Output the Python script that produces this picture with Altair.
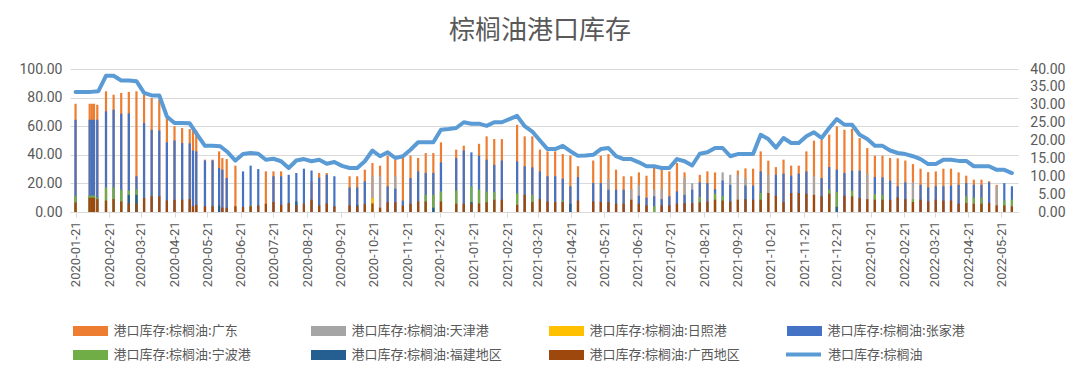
import altair as alt
import pandas as pd

FONT = "Noto Sans CJK SC"
NUMFONT = "Roboto"
TXT = "#595959"
GRID = "#D9D9D9"

TITLE = "棕榈油港口库存"
series_names = ["港口库存:棕榈油:广东", "港口库存:棕榈油:天津港", "港口库存:棕榈油:日照港",
                "港口库存:棕榈油:张家港", "港口库存:棕榈油:宁波港", "港口库存:棕榈油:福建地区",
                "港口库存:棕榈油:广西地区"]
line_name = "港口库存:棕榈油"
colors = ["#ED7D31", "#A5A5A5", "#FFC000", "#4472C4", "#70AD47", "#255E91", "#9E480E"]
line_color = "#5B9BD5"

N = None

bar_dates = [
    "2020-01-21", "2020-02-03", "2020-02-05", "2020-02-07", "2020-02-10", "2020-02-18", "2020-02-25", "2020-03-03", "2020-03-10", "2020-03-17",
    "2020-03-24", "2020-03-31", "2020-04-07", "2020-04-14", "2020-04-21", "2020-04-28", "2020-05-05", "2020-05-08", "2020-05-11", "2020-05-19",
    "2020-05-26", "2020-06-01", "2020-06-04", "2020-06-08", "2020-06-16", "2020-06-23", "2020-06-30", "2020-07-07", "2020-07-14", "2020-07-21",
    "2020-07-28", "2020-08-04", "2020-08-11", "2020-08-18", "2020-08-25", "2020-09-01", "2020-09-08", "2020-09-15", "2020-09-29", "2020-10-06",
    "2020-10-13", "2020-10-20", "2020-10-27", "2020-11-03", "2020-11-10", "2020-11-17", "2020-11-24", "2020-12-01", "2020-12-08", "2020-12-15",
    "2020-12-22", "2021-01-05", "2021-01-12", "2021-01-19", "2021-01-26", "2021-02-02", "2021-02-09", "2021-02-16", "2021-03-02", "2021-03-09",
    "2021-03-16", "2021-03-23", "2021-03-30", "2021-04-06", "2021-04-13", "2021-04-20", "2021-04-27", "2021-05-11", "2021-05-18", "2021-05-25",
    "2021-06-01", "2021-06-08", "2021-06-15", "2021-06-22", "2021-06-29", "2021-07-06", "2021-07-13", "2021-07-20", "2021-07-27", "2021-08-03",
    "2021-08-10", "2021-08-17", "2021-08-24", "2021-08-31", "2021-09-07", "2021-09-14", "2021-09-21", "2021-09-28", "2021-10-05", "2021-10-12",
    "2021-10-19", "2021-10-26", "2021-11-02", "2021-11-09", "2021-11-16", "2021-11-23", "2021-11-30", "2021-12-07", "2021-12-14", "2021-12-21",
    "2021-12-28", "2022-01-04", "2022-01-11", "2022-01-18", "2022-01-25", "2022-02-01", "2022-02-08", "2022-02-15", "2022-02-22", "2022-03-01",
    "2022-03-08", "2022-03-15", "2022-03-22", "2022-03-29", "2022-04-05", "2022-04-12", "2022-04-19", "2022-04-26", "2022-05-03", "2022-05-10",
    "2022-05-17", "2022-05-24", "2022-05-31",
]

guangdong = [
    75.7, 75.7, 75.7, 75.7, 75.0, 84.4, 82.0, 83.2, 83.9, 84.4,
    82.0, 79.7, 78.5, 65.7, 60.0, 58.7, 58.0, 58.0, 57.0, 36.6,
    36.6, 42.4, 37.7, 37.0, 32.4, N, N, N, 28.4, 28.4,
    28.4, N, N, N, 21.4, 27.3, 27.3, N, 25.0, 25.0,
    29.6, 34.2, 32.4, 39.4, 36.6, 37.8, 39.4, 37.8, 41.2, 41.2,
    48.7, 43.6, 46.4, N, 47.7, 52.9, 51.0, 51.0, 61.0, 52.9,
    52.9, 43.6, 42.4, 42.4, 40.5, 39.4, 32.0, 36.0, 39.4, 40.5,
    29.6, 25.0, 25.0, 27.7, 25.4, 30.8, 29.6, 28.4, 34.2, 27.7,
    N, 26.0, 28.4, 27.7, N, N, 29.0, 30.5, 30.3, 42.4,
    35.9, 31.4, 36.6, 32.4, 32.4, 42.4, 49.9, 50.6, 54.1, 59.9,
    57.5, 58.2, 51.7, 44.7, 39.4, 39.4, 37.8, 37.5, 36.0, 33.5,
    30.3, 27.9, 28.4, 30.3, 30.3, 27.7, 25.4, 22.6, 22.6, 21.5,
    19.0, N, N,
]

tianjin = [
    N, N, N, N, N, N, N, N, N, N,
    N, N, N, N, N, N, N, N, N, N,
    N, N, N, N, N, N, N, N, N, N,
    N, N, N, N, N, N, N, N, N, N,
    N, 25.0, 25.4, N, 25.0, N, N, N, N, N,
    N, N, N, N, N, N, N, N, N, N,
    N, N, N, N, N, N, N, N, N, 23.0,
    N, N, 16.0, 19.0, N, 15.6, 16.0, N, N, 23.8,
    20.2, N, N, N, 27.7, 26.0, 26.0, 23.8, N, N,
    26.0, N, N, N, N, N, 25.0, N, N, N,
    N, N, N, 26.6, N, N, N, N, N, 20.7,
    N, N, N, N, N, N, N, N, N, N,
    18.0, N, N,
]

rizhao = [
    N, 11.0, N, N, N, N, N, N, N, N,
    N, N, N, N, N, N, N, 5.0, N, N,
    N, N, N, N, N, N, N, N, N, N,
    7.0, N, N, N, N, N, N, N, N, N,
    N, 9.8, N, N, N, N, N, N, N, N,
    N, N, N, N, N, N, N, N, N, N,
    N, N, N, N, N, N, N, N, N, N,
    N, N, N, N, N, N, N, N, N, N,
    N, N, N, N, N, N, N, N, N, N,
    N, N, N, N, N, N, N, N, N, N,
    N, N, N, N, N, N, N, N, N, N,
    N, N, N, N, N, N, N, N, N, N,
    N, N, N,
]

zhangjiagang = [
    64.5, 64.5, 64.5, 64.5, 64.5, 70.4, 71.5, 68.7, 69.0, 25.0,
    62.2, 57.5, 57.0, 48.7, 50.0, 48.2, 48.0, 43.0, 42.4, 36.0,
    36.0, 30.7, 29.6, 23.8, N, 28.4, 32.4, 30.0, N, 25.0,
    25.0, 26.0, 27.3, 30.3, 29.0, 24.0, 26.0, 25.0, 17.2, 17.2,
    21.4, N, N, 18.0, 16.3, 8.0, 23.8, 28.4, 27.3, 27.3,
    34.7, 37.7, 43.0, 41.7, 39.4, 36.6, 33.0, 36.0, 35.4, 32.0,
    31.2, 28.4, 25.0, 25.0, 23.3, 18.0, 24.4, 20.2, 20.2, 15.6,
    15.6, 15.6, N, 11.4, 10.0, 11.0, 9.0, 11.0, 14.4, 12.0,
    15.6, 20.7, 20.2, 16.0, 22.0, 19.0, N, 18.4, 18.4, 28.4,
    N, 26.0, 26.8, 25.4, 26.8, 28.4, N, 23.8, 31.4, 29.6,
    27.3, 28.9, 28.9, N, 24.4, 24.2, 21.9, 18.0, 20.7, N,
    19.0, 17.2, 18.0, 18.0, 18.4, 19.0, 20.2, 19.0, 19.0, 20.7,
    N, 20.2, 18.0,
]

ningbo = [
    11.4, 11.5, 11.5, 11.5, 10.0, 17.2, 17.2, 15.6, 15.0, 16.0,
    N, N, N, N, N, N, N, N, N, N,
    N, N, N, N, N, N, 4.6, N, N, N,
    N, N, N, N, N, N, N, N, N, N,
    N, N, 2.0, N, N, N, N, N, 12.0, 12.0,
    14.4, 15.0, N, 18.0, 15.6, 14.4, 14.0, N, 13.0, N,
    12.0, N, N, N, 8.0, N, N, N, N, N,
    N, N, N, N, N, 4.0, N, N, N, N,
    N, 10.5, N, 12.8, 11.0, N, N, N, N, 13.3,
    N, N, N, N, N, N, N, N, 15.6, 14.0,
    N, 14.9, N, N, 12.6, 12.0, N, N, N, 9.0,
    N, N, N, N, N, N, 11.0, 10.0, 10.0, N,
    N, 8.0, 8.6,
]

fujian = [
    N, N, N, N, N, N, N, N, 12.0, 12.0,
    N, N, N, N, N, N, N, N, N, N,
    N, 4.4, N, N, N, N, N, N, N, N,
    N, N, 7.4, N, N, N, N, N, N, 5.0,
    N, N, N, N, N, N, N, N, N, 3.0,
    N, N, N, 7.0, N, N, N, N, N, N,
    N, N, N, N, N, 5.8, N, N, N, N,
    N, N, N, N, N, N, N, N, N, N,
    N, N, N, N, N, N, N, N, N, N,
    N, N, N, N, N, N, N, N, N, 3.6,
    N, N, N, N, N, N, N, N, N, N,
    N, N, N, N, N, N, N, N, N, N,
    N, N, N,
]

guangxi = [
    6.7, 10.0, 10.0, 10.0, 9.0, 8.0, 9.0, 7.4, 6.0, 6.0,
    9.8, 11.0, 11.0, 8.0, 8.5, 8.6, 9.0, 4.0, 5.0, 4.0,
    4.0, N, 3.0, 3.0, 4.0, 3.5, 4.0, 4.6, 5.8, 7.0,
    5.0, 6.3, 4.6, 5.8, 8.6, 4.6, 6.0, 4.0, 4.6, 4.0,
    5.5, 6.0, 3.0, 6.8, 6.8, 4.6, 5.8, 7.4, 7.4, N,
    7.4, 5.8, 5.8, 6.0, 6.0, 6.8, 8.6, 8.6, 5.0, 12.0,
    7.0, 9.0, 7.4, 7.0, 7.0, N, 8.0, 7.4, 7.0, 7.0,
    5.8, 5.8, 8.6, 5.8, 4.6, N, 4.6, 4.6, 5.8, 6.3,
    6.3, 6.8, 7.4, 8.6, 8.0, 7.4, 8.6, 9.0, 8.6, 8.6,
    13.3, 11.4, 7.0, 13.3, 13.3, 12.8, 12.0, 11.0, 12.8, N,
    11.4, 11.0, 9.8, 9.0, 8.6, 8.6, 8.6, 10.2, 9.0, 7.0,
    8.6, 7.4, 8.6, 8.0, 8.0, 5.8, 6.3, 5.8, 5.8, 6.3,
    4.6, 4.6, 4.0,
]

# weekly total (right axis), starting 2020-01-21
line_start = "2020-01-21"
total_stock = [
    33.6, 33.6, 33.6, 33.8, 38.1, 38.1, 36.8, 36.8, 36.6, 33.3,
    32.6, 32.6, 26.7, 24.9, 24.9, 24.8, 21.6, 18.5, 18.5, 18.4,
    16.7, 14.4, 16.2, 16.5, 16.3, 14.6, 14.9, 14.2, 12.3, 14.4,
    14.8, 14.2, 14.6, 13.5, 14.0, 12.9, 12.3, 12.3, 14.2, 17.2,
    15.6, 16.7, 15.1, 15.6, 17.4, 19.5, 19.5, 19.5, 23.0, 23.2,
    23.5, 25.1, 24.7, 24.7, 24.1, 25.1, 25.1, 26.0, 26.9, 24.0,
    22.5, 20.0, 17.6, 17.6, 18.5, 17.0, 15.7, 15.8, 16.0, 17.6,
    17.9, 15.6, 14.8, 14.8, 13.9, 12.8, 12.8, 12.3, 12.3, 14.8,
    14.2, 13.0, 16.3, 16.7, 17.9, 17.9, 15.6, 16.2, 16.2, 16.2,
    21.6, 20.4, 18.0, 20.7, 19.3, 19.3, 21.2, 22.3, 20.7, 23.5,
    26.0, 24.4, 24.4, 21.6, 20.4, 18.5, 18.5, 17.2, 16.5, 16.2,
    15.6, 14.8, 13.4, 13.4, 14.6, 14.6, 14.3, 14.3, 12.8, 12.8,
    12.8, 11.8, 11.8, 10.9,
]

tick_dates = [
    "2020-01-21", "2020-02-21", "2020-03-21", "2020-04-21", "2020-05-21", "2020-06-21", "2020-07-21",
    "2020-08-21", "2020-09-21", "2020-10-21", "2020-11-21", "2020-12-21", "2021-01-21", "2021-02-21",
    "2021-03-21", "2021-04-21", "2021-05-21", "2021-06-21", "2021-07-21", "2021-08-21", "2021-09-21",
    "2021-10-21", "2021-11-21", "2021-12-21", "2022-01-21", "2022-02-21", "2022-03-21", "2022-04-21",
    "2022-05-21",
]
left_ticks = [0, 20, 40, 60, 80, 100]
right_ticks = [0, 5, 10, 15, 20, 25, 30, 35, 40]

series_values = [guangdong, tianjin, rizhao, zhangjiagang, ningbo, fujian, guangxi]
for vals in series_values:
    assert len(vals) == len(bar_dates)

rows = []
for rank, (name, vals) in enumerate(zip(series_names, series_values)):
    for d, v in zip(bar_dates, vals):
        if v is not None:
            rows.append({"date": d, "series": name, "value": v, "rank": rank})
bar_df = pd.DataFrame(rows)

line_df = pd.DataFrame({
    "date": pd.date_range(line_start, periods=len(total_stock), freq="7D").strftime("%Y-%m-%d"),
    "series": line_name,
    "value": total_stock,
})


def dt(s, hours=0):
    y, m, d = (int(p) for p in s.split("-"))
    return alt.DateTime(year=y, month=m, date=d, hours=hours, utc=True)


x_axis = alt.Axis(values=[dt(s) for s in tick_dates],
                  labelExpr="utcFormat(datum.value, '%Y-%m-%d')",
                  labelAngle=270, labelAlign="right", labelBaseline="middle",
                  grid=False, domainColor=GRID, tickColor=GRID, tickSize=5,
                  labelColor=TXT, labelFont=NUMFONT, labelFontSize=13, labelPadding=4,
                  labelOverlap=False)
x_scale = alt.Scale(type="utc", domain=[dt("2020-01-20", 12), dt("2022-06-01", 0)])

bars = alt.Chart(bar_df).mark_bar(size=2.2).encode(
    x=alt.X("date:T", title=None, scale=x_scale, axis=x_axis),
    y=alt.Y("value:Q", stack=None, title=None,
            scale=alt.Scale(domain=[0, 100], nice=False),
            axis=alt.Axis(values=left_ticks, format=".2f", grid=True, gridColor=GRID,
                          domain=False, ticks=False, labelColor=TXT, labelFont=NUMFONT,
                          labelFontSize=14, labelPadding=8)),
    color=alt.Color("series:N", scale=alt.Scale(domain=series_names, range=colors),
                    legend=alt.Legend(title=None, orient="none", legendX=13.5, legendY=255,
                                      direction="horizontal", columns=4, gridAlign="all",
                                      columnPadding=46, rowPadding=10,
                                      symbolType="M-2.5,-0.7H2.5V0.7H-2.5Z", symbolSize=196,
                                      symbolStrokeWidth=0, labelFont=FONT, labelFontSize=13,
                                      labelColor=TXT, labelOffset=16, labelLimit=400, padding=0)),
    order=alt.Order("rank:Q"),
)

line = alt.Chart(line_df).mark_line(strokeWidth=4, strokeJoin="round", strokeCap="round").encode(
    x=alt.X("date:T", title=None, scale=x_scale, axis=x_axis),
    y=alt.Y("value:Q", title=None, scale=alt.Scale(domain=[0, 40], nice=False),
            axis=alt.Axis(orient="right", values=right_ticks, format=".2f", grid=False,
                          domain=False, ticks=False, labelColor=TXT, labelFont=NUMFONT,
                          labelFontSize=14, labelAlign="right", labelPadding=47)),
    color=alt.Color("series:N", scale=alt.Scale(domain=[line_name], range=[line_color]),
                    legend=alt.Legend(title=None, orient="none", legendX=714, legendY=266,
                                      symbolType="stroke", symbolSize=1225, symbolStrokeWidth=4,
                                      labelFont=FONT, labelFontSize=13, labelColor=TXT,
                                      labelOffset=5, labelLimit=400, padding=0)),
)

chart = alt.layer(bars, line).resolve_scale(y="independent", color="independent").properties(
    width=948, height=143,
    padding={"left": 62, "top": 61, "right": 54, "bottom": 164},
    autosize=alt.AutoSizeParams(type="none"),
    title=alt.TitleParams(TITLE, fontSize=26, font=FONT, color=TXT, fontWeight="normal",
                          anchor="middle", frame="group", offset=18, dx=-4),
).configure_view(stroke=None)

chart.save("out.html", embed_options={"renderer": "svg", "actions": False})
